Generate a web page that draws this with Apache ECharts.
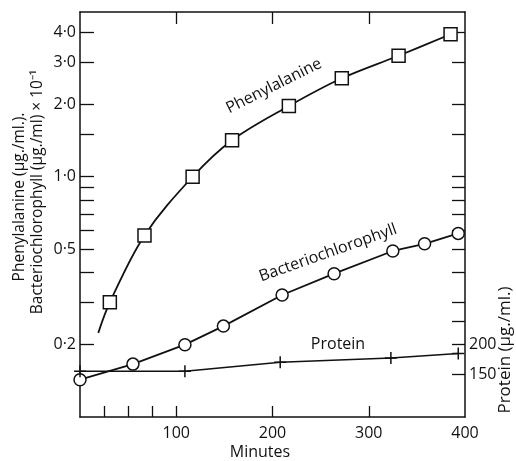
<!DOCTYPE html>
<html>
<head>
<meta charset="utf-8">
<script src="https://cdn.jsdelivr.net/npm/echarts@6/dist/echarts.min.js"></script>
<style>
  html, body { margin: 0; padding: 0; background: #fff; }
  #main { width: 516px; height: 461px; }
</style>
</head>
<body>
<div id="main"></div>
<script type="text/javascript">
// data (minutes vs value)
var pheMinutes = [19, 31, 67, 117, 158, 217, 272, 331, 385];
var pheValues  = [0.224, 0.30, 0.57, 1.0, 1.42, 1.97, 2.57, 3.19, 3.92];

var bchlMinutes = [0, 55, 109, 149, 210, 264, 325, 358, 393];
var bchlValues  = [0.143, 0.166, 0.20, 0.239, 0.322, 0.395, 0.491, 0.526, 0.581];

var proteinMinutes = [0, 109, 208, 323, 393];
var proteinValues  = [155, 155, 169, 176, 184];

// axis ticks / labels
var xTicks = [25, 50, 75, 100, 200, 300];
var xLabels = [100, 200, 300, 400];
var topTicks = [100, 200, 300];
var leftTicks = [0.2, 0.3, 0.4, 0.5, 0.6, 0.7, 0.8, 0.9, 1, 1.5, 2, 3, 4];
var leftLabels = [0.2, 0.5, 1, 2, 3, 4];
var rightTicks = [150, 200, 250, 300, 400, 500, 600, 700, 800, 900, 1000, 1500, 2000, 3000, 4000];
var rightLabels = [150, 200];

var ink = '#111';
var fontFam = 'Open Sans';

var myChart = echarts.init(document.getElementById('main'));

function pairs(xs, ys) {
  return xs.map(function (x, i) { return [x, ys[i]]; });
}

var pheData = pairs(pheMinutes, pheValues).map(function (p, i) {
  // the curve starts before the first plotted square
  return i === 0 ? { value: p, symbol: 'none' } : p;
});

var tickStyle = { color: ink, width: 1.3 };
var lineStyle = { color: ink, width: 1.5 };

var option = {
  backgroundColor: '#fff',
  animation: false,
  grid: { left: 80, top: 12, right: 51, bottom: 44 },
  xAxis: [{
    type: 'value', min: 0, max: 400, position: 'bottom',
    axisLine: { onZero: false, lineStyle: lineStyle },
    axisTick: { inside: true, length: 11, customValues: xTicks, lineStyle: tickStyle },
    axisLabel: { customValues: xLabels, margin: 8, color: ink, fontSize: 16, fontFamily: fontFam },
    splitLine: { show: false }
  }, {
    type: 'value', min: 0, max: 400, position: 'top',
    axisLine: { onZero: false, lineStyle: lineStyle },
    axisTick: { inside: true, length: 12, customValues: topTicks, lineStyle: tickStyle },
    axisLabel: { show: false },
    splitLine: { show: false }
  }],
  yAxis: [{
    type: 'log', logBase: 10, min: 0.1, max: 4.85, position: 'left',
    axisLine: { show: true, onZero: false, lineStyle: lineStyle },
    axisTick: { inside: true, length: 14, customValues: leftTicks, lineStyle: tickStyle },
    axisLabel: {
      customValues: leftLabels, margin: 4, color: ink, fontSize: 16, fontFamily: fontFam,
      formatter: function (v) { return (+v).toFixed(1).replace('.', '·'); }
    },
    splitLine: { show: false }
  }, {
    // protein scale, same decades as the left axis (x1000)
    type: 'log', logBase: 10, min: 100, max: 4850, position: 'right',
    axisLine: { show: true, onZero: false, lineStyle: lineStyle },
    axisTick: { inside: true, length: 13, customValues: rightTicks, lineStyle: tickStyle },
    axisLabel: {
      customValues: rightLabels, margin: 4, color: ink, fontSize: 16, fontFamily: fontFam,
      formatter: function (v) { return Math.round(v) + ''; }
    },
    splitLine: { show: false }
  }],
  series: [{
    name: 'Phenylalanine', type: 'line', xAxisIndex: 0, yAxisIndex: 0,
    data: pheData, smooth: 0.35,
    symbol: 'rect', symbolSize: 13,
    lineStyle: { color: ink, width: 1.8 },
    itemStyle: { color: '#fff', borderColor: ink, borderWidth: 1.5 }
  }, {
    name: 'Bacteriochlorophyll', type: 'line', xAxisIndex: 0, yAxisIndex: 0,
    data: pairs(bchlMinutes, bchlValues),
    symbol: 'circle', symbolSize: 12,
    lineStyle: { color: ink, width: 1.8 },
    itemStyle: { color: '#fff', borderColor: ink, borderWidth: 1.5 }
  }, {
    name: 'Protein', type: 'line', xAxisIndex: 0, yAxisIndex: 1,
    data: pairs(proteinMinutes, proteinValues),
    symbol: 'path://M0,5L10,5M5,0L5,10', symbolSize: 12,
    lineStyle: { color: ink, width: 1.5 },
    itemStyle: { color: 'none', borderColor: ink, borderWidth: 1.5 }
  }],
  graphic: [
    { type: 'text', x: 20, y: 197, rotation: Math.PI / 2,
      style: { text: 'Phenylalanine (µg./ml.).', fontSize: 15.5, fontFamily: fontFam, fill: ink, align: 'center', verticalAlign: 'middle' } },
    { type: 'text', x: 38, y: 192, rotation: Math.PI / 2,
      style: { text: 'Bacteriochlorophyll (µg./ml) × 10⁻¹', fontSize: 15.5, fontFamily: fontFam, fill: ink, align: 'center', verticalAlign: 'middle' } },
    { type: 'text', x: 505, y: 350, rotation: Math.PI / 2,
      style: { text: 'Protein (µg./ml.)', fontSize: 17, fontFamily: fontFam, fill: ink, align: 'center', verticalAlign: 'middle' } },
    { type: 'text', x: 260, y: 452,
      style: { text: 'Minutes', fontSize: 16, fontFamily: fontFam, fill: ink, align: 'center', verticalAlign: 'middle' } },
    { type: 'text', x: 274, y: 86, rotation: 26.5 * Math.PI / 180,
      style: { text: 'Phenylalanine', fontSize: 16, fontFamily: fontFam, fill: ink, align: 'center', verticalAlign: 'middle' } },
    { type: 'text', x: 328, y: 253, rotation: 19.5 * Math.PI / 180,
      style: { text: 'Bacteriochlorophyll', fontSize: 16, fontFamily: fontFam, fill: ink, align: 'center', verticalAlign: 'middle' } },
    { type: 'text', x: 338, y: 344,
      style: { text: 'Protein', fontSize: 16, fontFamily: fontFam, fill: ink, align: 'center', verticalAlign: 'middle' } }
  ]
};

myChart.setOption(option);
</script>
</body>
</html>
